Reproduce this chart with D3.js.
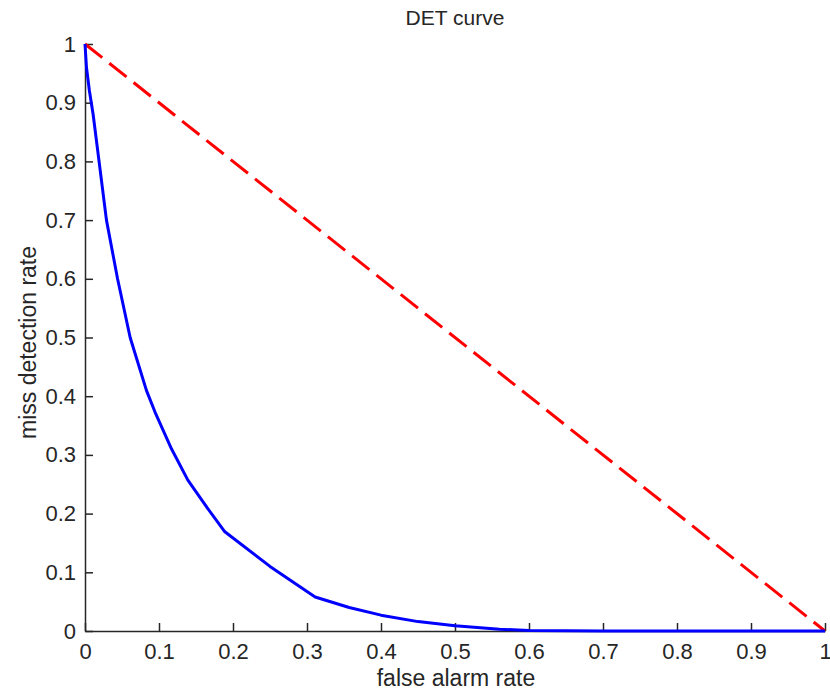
<!DOCTYPE html>
<html>
<head>
<meta charset="utf-8">
<script src="https://cdn.jsdelivr.net/npm/d3@7"></script>
<style>
  body { margin: 0; background: #fff; }
  svg { font-family: "Liberation Sans", Arial, sans-serif; }
</style>
</head>
<body>
<div id="chart"></div>
<script>
// false alarm rate vs miss detection rate
const falseAlarm = [0, 0.002, 0.006, 0.011, 0.019, 0.029, 0.044, 0.061, 0.083, 0.0946,
  0.117, 0.139, 0.165, 0.189, 0.25, 0.311, 0.357, 0.40, 0.45, 0.50, 0.56, 0.60, 0.70, 1];
const missRate = [1, 0.96, 0.92, 0.88, 0.80, 0.70, 0.60, 0.50, 0.41, 0.373,
  0.31, 0.257, 0.21, 0.169, 0.11, 0.058, 0.04, 0.027, 0.016, 0.009, 0.003, 0.001, 0, 0];
const chanceX = [0, 1];
const chanceY = [1, 0];
const tickValues = [0, 0.1, 0.2, 0.3, 0.4, 0.5, 0.6, 0.7, 0.8, 0.9, 1];

const width = 830, height = 692;
const margin = { top: 44, right: 5, bottom: 61, left: 85 };

const svg = d3.select("#chart").append("svg")
  .attr("width", width)
  .attr("height", height)
  .style("font-size", "22px");

const x = d3.scaleLinear().domain([0, 1]).range([margin.left, width - margin.right]);
const y = d3.scaleLinear().domain([0, 1]).range([height - margin.bottom, margin.top]);

const fmt = (d) => (d === 0 || d === 1 ? String(d) : d3.format(".1f")(d));

// axes, ticks pointing inward
const xAxis = svg.append("g")
  .attr("transform", `translate(0,${y(0)})`)
  .call(d3.axisBottom(x).tickValues(tickValues).tickFormat(fmt).tickSizeInner(-8).tickSizeOuter(0).tickPadding(12));
const yAxis = svg.append("g")
  .attr("transform", `translate(${x(0)},0)`)
  .call(d3.axisLeft(y).tickValues(tickValues).tickFormat(fmt).tickSizeInner(-8).tickSizeOuter(0).tickPadding(9));

[xAxis, yAxis].forEach((g) => {
  g.attr("font-size", null).attr("font-family", null);
  g.select(".domain").attr("stroke", "#262626").attr("stroke-width", 1.5);
  g.selectAll(".tick line").attr("stroke", "#262626").attr("stroke-width", 1.5);
  g.selectAll(".tick text").attr("fill", "#262626");
});
xAxis.selectAll(".tick text").attr("dy", "0.71em");

const line = d3.line().x((d) => x(d[0])).y((d) => y(d[1]));

svg.append("path")
  .datum(d3.zip(chanceX, chanceY))
  .attr("d", line)
  .attr("fill", "none")
  .attr("stroke", "#ff0000")
  .attr("stroke-width", 3)
  .attr("stroke-dasharray", "22,9");

svg.append("path")
  .datum(d3.zip(falseAlarm, missRate))
  .attr("d", line)
  .attr("fill", "none")
  .attr("stroke", "#0000ff")
  .attr("stroke-width", 3)
  .attr("stroke-linejoin", "round");

// title and labels
svg.append("text")
  .attr("x", (x(0) + x(1)) / 2)
  .attr("y", 25)
  .attr("text-anchor", "middle")
  .attr("fill", "#262626")
  .style("font-size", "21px")
  .text("DET curve");

svg.append("text")
  .attr("x", (x(0) + x(1)) / 2 + 1)
  .attr("y", 686)
  .attr("text-anchor", "middle")
  .attr("fill", "#262626")
  .style("font-size", "23px")
  .text("false alarm rate");

svg.append("text")
  .attr("transform", `translate(36,${(y(0) + y(1)) / 2 + 5}) rotate(-90)`)
  .attr("text-anchor", "middle")
  .attr("fill", "#262626")
  .style("font-size", "23px")
  .text("miss detection rate");
</script>
</body>
</html>
